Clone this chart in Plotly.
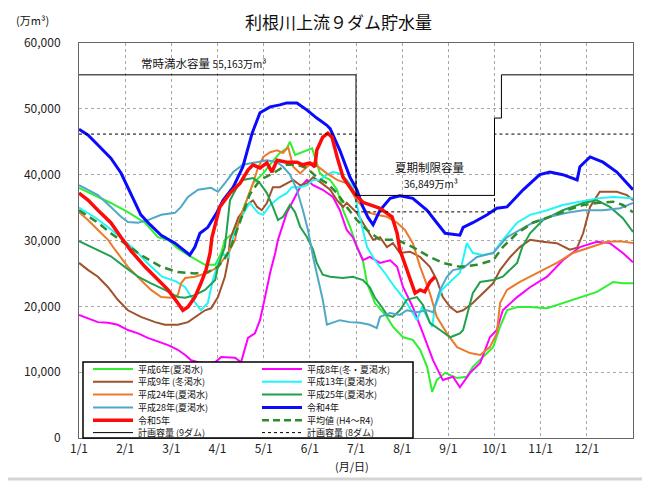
import plotly.graph_objects as go

# ---------------- data (x = month position: 0 = 1/1, 1 = 2/1, ... 12 = 12/31) ----------------
month_labels = ["1/1", "2/1", "3/1", "4/1", "5/1", "6/1", "7/1", "8/1", "9/1", "10/1", "11/1", "12/1"]

h6_x = [0, 0.41, 0.69, 1.06, 1.43, 1.71, 1.93, 2.14, 2.43, 2.73, 2.95, 3.08, 3.16, 3.34, 3.55, 3.77, 3.99, 4.18, 4.35, 4.5,
        4.57, 4.68, 4.79, 4.94, 5.05, 5.11, 5.22, 5.33, 5.44, 5.59, 5.72, 5.87, 6.02, 6.15, 6.24, 6.41, 6.67, 6.8, 7.02, 7.23,
        7.39, 7.54, 7.65, 7.75, 7.93, 8.19, 8.4, 8.53, 8.75, 8.97, 9.12, 9.27, 9.49, 9.77, 10.14, 10.48, 10.85, 11.22, 11.57, 11.78, 12]
h6_y = [38000, 36600, 35700, 34300, 32700, 30500, 30100, 28800, 27500, 26300, 26300, 28100, 30100, 31100, 34600, 38700, 40200, 41900, 43300, 44000,
        45000, 43000, 43300, 43700, 44000, 42700, 40200, 39600, 39200, 37700, 34600, 32100, 29000, 27000, 23500, 20500, 18400, 16900, 15300, 14900,
        13400, 10800, 7000, 8800, 9900, 9100, 9300, 10800, 12300, 13800, 16900, 19400, 19900, 19900, 19700, 20500, 21400, 22200, 23700, 23500, 23500]

h8_x = [0, 0.2, 0.41, 0.63, 0.84, 1.06, 1.28, 1.49, 1.71, 1.93, 2.14, 2.3, 2.43, 2.58, 2.79, 2.95, 3.08, 3.23, 3.38, 3.51,
        3.6, 3.66, 3.81, 3.92, 4.03, 4.14, 4.25, 4.31, 4.5, 4.64, 4.79, 4.94, 5.07, 5.28, 5.5, 5.65, 5.8, 5.93, 6.02, 6.15,
        6.3, 6.52, 6.74, 6.89, 7.02, 7.23, 7.45, 7.67, 7.88, 8.1, 8.25, 8.47, 8.69, 8.9, 9.05, 9.18, 9.49, 9.77, 10.14, 10.48,
        10.85, 11.22, 11.5, 11.78, 12]
h8_y = [18700, 18200, 17600, 17500, 17200, 16400, 15900, 15200, 14600, 14100, 13400, 12600, 11800, 11500, 11400, 11500, 12300, 12300, 12200, 11500,
        13800, 15200, 15900, 17900, 21400, 25100, 28100, 30100, 34200, 36100, 38100, 39200, 38400, 37700, 36600, 34600, 31600, 30500, 29000, 27000,
        27500, 26600, 27000, 26000, 22900, 19900, 15900, 11800, 8800, 9300, 7700, 9900, 11400, 15300, 16400, 19400, 21400, 22900, 24500, 27000,
        29000, 29800, 29600, 28100, 26700]

h9_x = [0, 0.2, 0.41, 0.63, 0.84, 1.06, 1.34, 1.65, 1.86, 2.14, 2.36, 2.58, 2.73, 2.86, 3.01, 3.16, 3.23, 3.27, 3.45, 3.69,
        3.77, 3.86, 3.96, 4.07, 4.2, 4.35, 4.5, 4.64, 4.79, 4.94, 5.07, 5.22, 5.44, 5.59, 5.72, 5.8, 6.02, 6.24, 6.37, 6.52,
        6.67, 6.8, 6.95, 7.17, 7.39, 7.6, 7.75, 7.88, 8.04, 8.19, 8.32, 8.53, 8.75, 8.97, 9.12, 9.34, 9.55, 9.77, 10.05, 10.35,
        10.63, 10.79, 10.92, 11.07, 11.28, 11.65, 11.87, 12]
h9_y = [26600, 25500, 24500, 22900, 21000, 19400, 18400, 17600, 17200, 17200, 17600, 18700, 19400, 19700, 21400, 24500, 27000, 30100, 33500, 35700,
        36100, 35100, 34600, 35700, 38100, 38100, 38700, 39200, 38400, 38700, 39600, 38900, 37700, 36100, 35100, 35700, 34200, 31600, 30100, 30500,
        29000, 29600, 28100, 28300, 27500, 26000, 24000, 21400, 19900, 19100, 19400, 20500, 22000, 23500, 25500, 27500, 29000, 30100, 29800, 29600,
        28600, 28900, 31100, 35100, 37400, 37400, 36900, 36100]

h13_x = [0, 0.35, 0.71, 1.0, 1.21, 1.49, 1.8, 2.1, 2.3, 2.47, 2.64, 2.79, 2.9, 3.01, 3.12, 3.23, 3.34, 3.49, 3.6, 3.7,
         3.88, 3.99, 4.14, 4.35, 4.5, 4.61, 4.79, 4.94, 5.07, 5.22, 5.37, 5.5, 5.65, 5.8, 5.93, 6.1, 6.24, 6.41, 6.62, 6.84,
         7.06, 7.23, 7.32, 7.43, 7.54, 7.65, 7.71, 7.86, 8.08, 8.25, 8.4, 8.53, 8.75, 8.97, 9.18, 9.49, 9.77, 10.14, 10.48, 10.85,
         11.22, 11.57, 12]
h13_y = [35000, 33500, 31600, 29800, 28600, 26500, 24500, 23800, 22900, 21000, 19400, 20500, 24000, 26600, 28000, 27500, 30500, 33100, 34600, 35700,
         34200, 33900, 35400, 36600, 37200, 38100, 38100, 38400, 39200, 39200, 40000, 40400, 40200, 39200, 38100, 33000, 29000, 27000, 25100, 22900,
         21000, 19000, 17900, 19900, 18400, 16900, 19900, 22500, 24000, 25100, 29600, 28100, 27800, 28100, 30100, 32700, 33900, 34600, 35400, 35900,
         36400, 36600, 36400]

h24_x = [0, 0.195, 0.41, 0.63, 0.78, 1.06, 1.34, 1.56, 1.78, 1.99, 2.14, 2.21, 2.3, 2.51, 2.79, 3.01, 3.23, 3.38, 3.45, 3.64,
         3.77, 3.86, 3.99, 4.14, 4.29, 4.42, 4.53, 4.64, 4.79, 4.94, 5.07, 5.22, 5.37, 5.59, 5.8, 6.02, 6.24, 6.45, 6.67, 6.89,
         7.06, 7.23, 7.39, 7.6, 7.75, 7.97, 8.19, 8.47, 8.69, 8.9, 9.05, 9.12, 9.27, 9.55, 9.92, 10.35, 10.7, 11.07, 11.44, 11.72, 12]
h24_y = [34300, 33100, 31600, 30100, 28600, 26000, 24000, 22500, 21400, 21300, 21700, 23500, 24300, 24500, 25100, 26000, 28100, 30100, 32700, 36100,
         38700, 40700, 42700, 43400, 43700, 43300, 44200, 41200, 40200, 41200, 41800, 41000, 40200, 39200, 38700, 36100, 34300, 33900, 33600, 32700,
         31600, 29600, 26000, 22000, 18400, 15900, 13800, 12900, 12600, 13800, 15900, 20500, 22500, 23700, 25100, 26600, 28100, 29000, 29800, 29900, 29600]

h25_x = [0, 0.41, 0.69, 0.99, 1.28, 1.56, 1.86, 2.14, 2.3, 2.51, 2.73, 2.95, 3.01, 3.08, 3.16, 3.27, 3.42, 3.55, 3.77, 3.92,
         4.07, 4.2, 4.31, 4.42, 4.57, 4.68, 4.79, 4.94, 5.07, 5.15, 5.28, 5.44, 5.72, 5.93, 6.15, 6.3, 6.41, 6.56, 6.67, 6.8,
         6.95, 7.1, 7.32, 7.45, 7.6, 7.82, 8.04, 8.25, 8.32, 8.53, 8.69, 8.97, 9.18, 9.49, 9.6, 9.77, 10.05, 10.48, 10.92, 11.22,
         11.5, 11.78, 12]
h25_y = [29900, 28500, 27600, 26000, 24500, 23500, 22500, 21400, 21300, 21700, 22500, 24000, 26000, 27500, 29000, 36100, 38100, 39200, 39500, 38700,
         37200, 35100, 33100, 33600, 35400, 34300, 32100, 30500, 28600, 26600, 24800, 24500, 24300, 24500, 24000, 22900, 21300, 19900, 18700, 18400,
         19400, 21000, 21400, 20200, 17500, 16400, 15300, 15900, 16400, 22000, 23700, 24000, 24500, 26600, 29000, 31100, 33100, 34600, 35700, 36100,
         35100, 33400, 31300]

h28_x = [0, 0.195, 0.41, 0.69, 0.91, 1.06, 1.28, 1.49, 1.78, 2.08, 2.21, 2.36, 2.58, 2.86, 3.01, 3.16, 3.34, 3.55, 3.77, 4.07,
         4.29, 4.42, 4.57, 4.72, 4.85, 4.96, 5.07, 5.15, 5.28, 5.37, 5.5, 5.65, 5.87, 6.09, 6.3, 6.45, 6.52, 6.74, 6.95, 7.1,
         7.32, 7.54, 7.67, 7.82, 7.97, 8.1, 8.32, 8.62, 8.97, 9.27, 9.55, 9.83, 10.2, 10.57, 10.92, 11.35, 11.72, 12]
h28_y = [38400, 37700, 36900, 35100, 33600, 32800, 32700, 33100, 33900, 34200, 35100, 36600, 37700, 38000, 37400, 38700, 40400, 41500, 41800, 42200,
         41900, 41200, 40000, 37700, 34600, 31600, 27500, 25100, 21000, 17200, 17500, 17900, 17600, 17500, 17200, 16700, 18400, 19000, 18700, 19400,
         19100, 19400, 19100, 22500, 24500, 25500, 25800, 27500, 28100, 30500, 31600, 32700, 33600, 34200, 34600, 34600, 34900, 35700]

r4_x = [0, 0.2, 0.41, 0.69, 0.91, 1.13, 1.34, 1.54, 1.78, 2.08, 2.4, 2.51, 2.62, 2.79, 2.99, 3.12, 3.34, 3.55, 3.75, 3.92,
        4.14, 4.35, 4.5, 4.72, 4.94, 5.15, 5.37, 5.44, 5.65, 5.87, 6.02, 6.15, 6.26, 6.37, 6.52, 6.74, 6.95, 7.23, 7.54, 7.75,
        7.93, 8.25, 8.32, 8.53, 8.84, 9.05, 9.27, 9.62, 9.98, 10.2, 10.48, 10.79, 10.85, 11.07, 11.35, 11.65, 12.0]
r4_y = [46900, 46000, 44500, 42500, 40250, 36900, 33900, 32400, 30800, 29600, 27800, 29000, 31100, 32000, 34300, 36100, 38100, 41200, 46300, 49400,
        50300, 50600, 50900, 50900, 49800, 48600, 47500, 47000, 43700, 39600, 37700, 35100, 33500, 32400, 34600, 36400, 36800, 36400, 34600, 32700,
        31100, 30800, 32000, 32700, 33900, 34900, 35100, 37700, 40000, 40400, 40000, 39200, 41200, 42700, 41900, 40400, 37700]

r5_x = [0, 0.195, 0.41, 0.69, 0.91, 1.13, 1.43, 1.71, 1.93, 2.14, 2.25, 2.36, 2.51, 2.64, 2.75, 2.84, 2.88, 3.05, 3.27, 3.49,
        3.66, 3.77, 3.92, 4.07, 4.18, 4.29, 4.5, 4.72, 4.85, 5.0, 5.11, 5.15, 5.28, 5.39, 5.48, 5.59, 5.72, 5.87, 5.98, 6.15,
        6.52, 6.78, 6.89, 6.95, 7.13, 7.28, 7.39, 7.49, 7.6, 7.71]
r5_y = [37200, 36150, 34600, 32700, 30500, 28400, 26000, 24000, 22500, 20500, 19400, 19900, 21400, 23500, 25500, 28100, 30500, 35100, 37200, 38700,
        40700, 41500, 41000, 41800, 40400, 42200, 41900, 41900, 41500, 41800, 41200, 43700, 45700, 46300, 45700, 42700, 39600, 38100, 37000, 35800,
        34900, 33600, 31100, 28600, 25100, 22000, 22500, 22200, 23700, 24500]

avg_x = [0, 0.41, 0.69, 0.99, 1.34, 1.78, 2.14, 2.51, 2.79, 3.01, 3.16, 3.29, 3.49, 3.7, 3.92, 4.2, 4.5, 4.72, 4.94, 5.15,
         5.37, 5.59, 5.8, 6.02, 6.24, 6.45, 6.52, 6.89, 7.23, 7.6, 7.88, 8.25, 8.62, 8.97, 9.18, 9.49, 9.83, 10.2, 10.57, 10.92,
         11.22, 11.57, 11.78, 12]
avg_y = [34600, 32700, 31100, 29600, 27800, 26000, 25200, 25000, 25200, 26000, 27300, 29000, 33000, 37000, 39200, 40200, 41500, 41500, 41000, 39600,
         38700, 37200, 35100, 33100, 31600, 30500, 30100, 30100, 29000, 27500, 26600, 26000, 26300, 27000, 29000, 31100, 32700, 33600, 34600, 35400,
         35700, 35900, 35400, 34300]

# planned capacity (9 dams / 8 dams)
cap9_x = [0, 6, 6, 9, 9, 9.15, 9.15, 12]
cap9_y = [55163, 55163, 36849, 36849, 48600, 48600, 55163, 55163]
cap8_x = [0, 6, 6, 9, 9, 12]
cap8_y = [46163, 46163, 34349, 34349, 46163, 46163]

# series: (name, x, y, color, width, dash)
series = [
    ("平成6年(夏渇水)", h6_x, h6_y, "#2ef02e", 2, "solid"),
    ("平成8年(冬・夏渇水)", h8_x, h8_y, "#ff00ff", 2, "solid"),
    ("平成9年 (冬渇水)", h9_x, h9_y, "#a0522d", 2, "solid"),
    ("平成13年(夏渇水)", h13_x, h13_y, "#22f5f5", 2, "solid"),
    ("平成24年(夏渇水)", h24_x, h24_y, "#ec7a2c", 2, "solid"),
    ("平成25年(夏渇水)", h25_x, h25_y, "#22a04e", 2, "solid"),
    ("平成28年(夏渇水)", h28_x, h28_y, "#4fa8c8", 2, "solid"),
    ("令和4年", r4_x, r4_y, "#0a0aff", 3, "solid"),
    ("平均値 (H4～R4)", avg_x, avg_y, "#2e8b2e", 2.5, "dash"),
    ("令和5年", r5_x, r5_y, "#ff0a0a", 3.5, "solid"),
    ("計画容量 (9ダム)", cap9_x, cap9_y, "#000000", 1, "solid"),
    ("計画容量 (8ダム)", cap8_x, cap8_y, "#000000", 1, "dot"),
]

# legend layout order (column 1, column 2)
legend_col1 = ["平成6年(夏渇水)", "平成9年 (冬渇水)", "平成24年(夏渇水)", "平成28年(夏渇水)", "令和5年", "計画容量 (9ダム)"]
legend_col2 = ["平成8年(冬・夏渇水)", "平成13年(夏渇水)", "平成25年(夏渇水)", "令和4年", "平均値 (H4～R4)", "計画容量 (8ダム)"]

FONT = "Noto Sans CJK JP"
OFF = 8                      # page body margin of the html page
W, H = 650 - OFF, 483 - OFF
L, T = 79 - OFF, 43 - OFF    # plot area top-left in figure pixels
PW, PH = 554, 395
R, B = W - L - PW, H - T - PH


def px(xp):
    """screen x pixel -> paper coordinate"""
    return (xp - OFF - L) / PW


def py(yp):
    """screen y pixel -> paper coordinate"""
    return (T + PH - (yp - OFF)) / PH


fig = go.Figure()
style = {}
for name, xs, ys, color, width, dash in series:
    style[name] = (color, width, dash)
    fig.add_trace(go.Scatter(x=xs, y=ys, mode="lines", name=name, showlegend=False,
                             line=dict(color=color, width=width, dash=dash if dash != "dash" else "8px,5px")))

shapes = []
annotations = []

# legend box
shapes.append(dict(type="rect", xref="paper", yref="paper", x0=px(83), x1=px(413), y0=py(438), y1=py(362),
                   fillcolor="white", line=dict(color="#000", width=1.5), layer="above"))
row_y = [369, 381.8, 394.6, 407.4, 420.2, 432.6]
for col, (lx0, lx1, tx) in zip([legend_col1, legend_col2], [(93, 133, 137), (262, 302, 306)]):
    for i, name in enumerate(col):
        color, width, dash = style[name]
        shapes.append(dict(type="line", xref="paper", yref="paper", x0=px(lx0), x1=px(lx1),
                           y0=py(row_y[i]), y1=py(row_y[i]), layer="above",
                           line=dict(color=color, width=width, dash=dash if dash != "dash" else "7px,4px")))
        annotations.append(dict(text=name, xref="paper", yref="paper", x=px(tx), y=py(row_y[i]),
                                xanchor="left", yanchor="middle", showarrow=False, borderpad=0,
                                font=dict(family=FONT, size=9, color="#111")))

# outer frame (right / bottom edges visible)
shapes.append(dict(type="rect", xref="paper", yref="paper", x0=px(-30), x1=px(645), y0=py(479), y1=py(-30),
                   line=dict(color="#d4d4d4", width=3), layer="below"))

# text annotations
annotations += [
    dict(text="利根川上流９ダム貯水量", xref="paper", yref="paper", x=px(338), y=py(22),
         showarrow=False, font=dict(family=FONT, size=17, color="#111"), xanchor="center", yanchor="middle"),
    dict(text="(万m³)", xref="paper", yref="paper", x=px(32), y=py(20),
         showarrow=False, font=dict(family=FONT, size=11, color="#111"), xanchor="center", yanchor="middle"),
    dict(text="(月/日)", xref="paper", yref="paper", x=px(352), y=py(466),
         showarrow=False, font=dict(family=FONT, size=11, color="#111"), xanchor="center", yanchor="middle"),
    dict(text="常時満水容量 <span style='font-size:10px'>55,163万m³</span>", x=1.32, y=56900, xref="x", yref="y",
         xanchor="left", yanchor="middle", showarrow=False, borderpad=0,
         font=dict(family=FONT, size=11.5, color="#111")),
    dict(text="夏期制限容量", x=7.6, y=41200, xref="x", yref="y", xanchor="center", yanchor="middle",
         showarrow=False, borderpad=0, font=dict(family=FONT, size=11.5, color="#111")),
    dict(text="36,849万m³", x=7.63, y=38650, xref="x", yref="y", xanchor="center", yanchor="middle",
         showarrow=False, borderpad=0, font=dict(family=FONT, size=10, color="#111")),
]

axis_common = dict(showgrid=True, gridcolor="#a8a8a8", griddash="dot", gridwidth=1,
                   showline=True, mirror=True, linecolor="#666", linewidth=1, zeroline=False,
                   tickfont=dict(family=FONT, size=12, color="#222"), fixedrange=True)

fig.update_layout(
    width=W, height=H,
    margin=dict(l=L, r=R, t=T, b=B),
    paper_bgcolor="white", plot_bgcolor="white",
    showlegend=False,
    xaxis=dict(range=[0, 12], tickmode="array", tickvals=list(range(12)), ticktext=month_labels,
               ticks="", **axis_common),
    yaxis=dict(range=[0, 60000], dtick=10000, tickformat=",", ticks="outside", ticklen=15,
               tickcolor="rgba(0,0,0,0)", **axis_common),
    shapes=shapes,
    annotations=annotations,
)

fig.write_html("out.html")
